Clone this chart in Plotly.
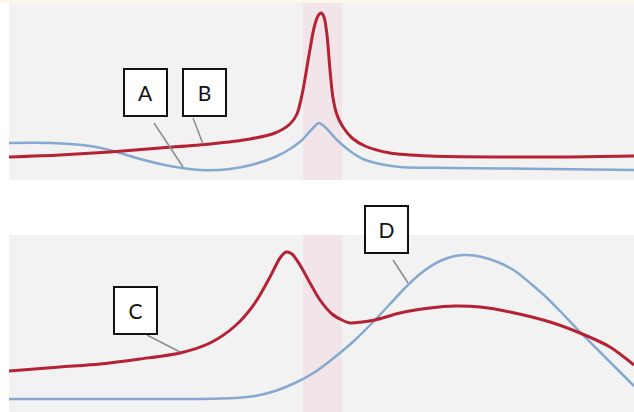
import plotly.graph_objects as go

# Horizontal position (arbitrary units, 0-625) and signal level (0-177) for each trace
top_red_x = [0, 51, 101, 151, 201, 241, 266, 281, 288, 294, 300, 305, 309, 312, 315, 318, 321, 324, 328, 334, 343, 356, 381, 421, 491, 561, 625]
top_red_y = [23, 25, 28, 32, 36, 41, 47, 56, 66, 90, 125, 152, 164, 167, 163, 145, 110, 82, 65, 53, 42, 34, 27, 24, 23, 23, 24]

top_blue_x = [0, 41, 81, 104, 131, 161, 191, 221, 246, 266, 281, 293, 303, 310, 317, 328, 341, 354, 371, 391, 441, 541, 625]
top_blue_y = [37, 37, 34, 29, 21, 14, 10, 11, 16, 23, 31, 40, 51, 57, 52, 40, 29, 21, 16, 13, 12, 11, 10]

bot_red_x = [0, 51, 91, 131, 171, 201, 226, 246, 261, 271, 277, 283, 291, 301, 311, 323, 333, 341, 353, 366, 391, 421, 446, 471, 501, 541, 571, 601, 625]
bot_red_y = [41, 45, 48, 53, 59, 69, 86, 109, 135, 154, 160, 158, 147, 129, 112, 98, 92, 89, 90, 92, 99, 104, 106, 105, 100, 90, 79, 65, 47]

bot_blue_x = [0, 91, 191, 226, 246, 266, 286, 306, 326, 346, 366, 381, 396, 411, 431, 446, 458, 473, 491, 506, 521, 536, 551, 571, 591, 611, 625]
bot_blue_y = [13, 13, 13, 14, 16, 21, 29, 40, 55, 72, 92, 108, 124, 138, 151, 156, 157, 155, 149, 141, 129, 116, 101, 80, 60, 40, 26]

# Highlighted window (x units)
band = [294, 333]

# Label boxes: text, panel, box centre (paper), leader start/end (data)
labels = ["A", "B", "C", "D"]
label_panel = ["top", "top", "bottom", "bottom"]
label_box_px = [(145, 92), (204.5, 92), (135.5, 310), (386, 229.5)]
leader_from = [(145, 57), (184, 62), (138, 77), (384, 152)]
leader_to = [(174, 13), (194, 36), (171, 60), (399, 129)]

W, H = 634, 412
RED = "#b52234"
BLUE = "#86a9cf"
LEADER = "#8c8c8c"

fig = go.Figure()

panels = {"top": ("x", "y"), "bottom": ("x2", "y2")}

for xs, ys, col, wid, ax in [
    (top_blue_x, top_blue_y, BLUE, 2.5, "top"),
    (top_red_x, top_red_y, RED, 3, "top"),
    (bot_blue_x, bot_blue_y, BLUE, 2.5, "bottom"),
    (bot_red_x, bot_red_y, RED, 3, "bottom"),
]:
    xa, ya = panels[ax]
    fig.add_trace(go.Scatter(
        x=xs, y=ys, mode="lines",
        line=dict(color=col, width=wid, shape="spline", smoothing=0.8),
        xaxis=xa, yaxis=ya, hoverinfo="skip", showlegend=False,
    ))

# Pink highlight band in both panels
for ax in ["top", "bottom"]:
    xa, ya = panels[ax]
    fig.add_shape(type="rect", xref=xa, yref=f"{ya} domain",
                  x0=band[0], x1=band[1], y0=0, y1=1,
                  fillcolor="#f1e5e9", line=dict(width=0), layer="below")

# Leader lines
for p, a, b in zip(label_panel, leader_from, leader_to):
    xa, ya = panels[p]
    fig.add_shape(type="line", xref=xa, yref=ya,
                  x0=a[0], y0=a[1], x1=b[0], y1=b[1],
                  line=dict(color=LEADER, width=1.5))

# Boxed labels
for t, (cx, cy) in zip(labels, label_box_px):
    fig.add_annotation(
        text=t, xref="paper", yref="paper",
        x=cx / W, y=1 - cy / H, xanchor="center", yanchor="middle",
        showarrow=False, width=41, height=45,
        bgcolor="white", bordercolor="#111111", borderwidth=2, borderpad=0,
        font=dict(family="Lato, Open Sans, sans-serif", size=21, color="#111111"),
    )

# Thin cream strip along the top edge
fig.add_shape(type="rect", xref="paper", yref="paper",
              x0=0, x1=1, y0=1 - 3 / H, y1=1,
              fillcolor="#fcf7ec", line=dict(width=0), layer="below")

axis_off = dict(visible=False, showgrid=False, zeroline=False, fixedrange=True)
fig.update_layout(
    width=W, height=H,
    margin=dict(l=0, r=0, t=0, b=0),
    paper_bgcolor="white",
    plot_bgcolor="#f2f2f2",
    xaxis=dict(axis_off, domain=[9 / W, 1], range=[0, 625]),
    yaxis=dict(axis_off, domain=[(H - 180) / H, (H - 3) / H], range=[0, 177]),
    xaxis2=dict(axis_off, domain=[9 / W, 1], range=[0, 625], anchor="y2"),
    yaxis2=dict(axis_off, domain=[0, (H - 235) / H], range=[0, 177], anchor="x2"),
)

fig.write_html("out.html")
